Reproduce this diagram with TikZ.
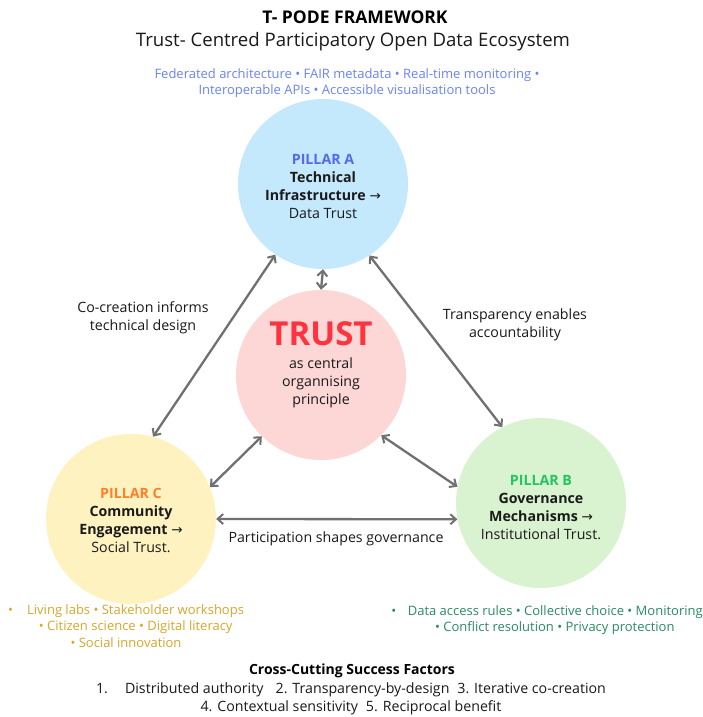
\documentclass[tikz,border=0pt]{standalone}
\usepackage{fontspec}
\setmainfont{Open Sans}
\newfontfamily\symfont{DejaVu Sans}
\usetikzlibrary{arrows.meta}
\definecolor{fillA}{HTML}{C4E8FC}
\definecolor{fillT}{HTML}{FDD6D6}
\definecolor{fillC}{HTML}{FEF2C0}
\definecolor{fillB}{HTML}{D9F2CF}
\definecolor{headA}{HTML}{5468F2}
\definecolor{headT}{HTML}{FF3340}
\definecolor{headC}{HTML}{FF7F2A}
\definecolor{headB}{HTML}{22C55E}
\definecolor{listA}{HTML}{6A84F5}
\definecolor{listC}{HTML}{D4A82A}
\definecolor{listB}{HTML}{2A8B62}
\definecolor{linkgray}{HTML}{707070}
\definecolor{ink}{HTML}{1A1A1A}
\newcommand{\toarrow}{{\symfont\fontsize{13.5}{18}\selectfont →}}
\begin{document}
\begin{tikzpicture}[x=1pt,y=-1pt,
  pillar/.style={circle,draw=none,minimum size=170pt,inner sep=0pt},
  body/.style={font=\fontsize{14.2}{18}\selectfont,align=center,text=ink,inner sep=0pt},
  listtext/.style={font=\fontsize{13}{16.5}\selectfont,align=center,inner sep=0pt},
  link/.style={draw=linkgray,line width=2.3pt,{Straight Barb[length=5.5pt,width=10pt,line width=2pt]}-{Straight Barb[length=5.5pt,width=10pt,line width=2pt]}}
]
\useasboundingbox (0,0) rectangle (702,717);
\fill[white] (0,0) rectangle (702,717);

% title block
\node[font=\fontsize{17.5}{20}\selectfont\bfseries,text=black,inner sep=0pt] (title) at (355,17) {T- PODE FRAMEWORK};
\node[font=\fontsize{18.6}{21}\selectfont,text=ink,inner sep=0pt] (subtitle) at (353,42) {Trust- Centred Participatory Open Data Ecosystem};
\node[listtext,text=listA] (techlist) at (347,83) {Federated architecture • FAIR metadata • Real-time monitoring •\\Interoperable APIs • Accessible visualisation tools};

% four circles
\node[pillar,fill=fillA] (A) at (323,184) {};
\node[pillar,fill=fillT] (T) at (321,375) {};
\node[pillar,fill=fillC] (C) at (131,519) {};
\node[pillar,fill=fillB] (B) at (541,503) {};

% circle texts
\node[body] (Atext) at (323,186) {{\color{headA}\bfseries PILLAR A}\\\textbf{Technical}\\\textbf{Infrastructure} \toarrow\\Data Trust};
\node[font=\fontsize{33}{36}\selectfont\bfseries,text=headT,inner sep=0pt] (Tword) at (321,334) {TRUST};
\node[body] (Ttext) at (321,383) {as central\\organnising\\principle};
\node[body] (Ctext) at (131,520) {{\color{headC}\bfseries PILLAR C}\\\textbf{Community}\\\textbf{Engagement} \toarrow\\Social Trust.};
\node[body] (Btext) at (541,508) {{\color{headB}\bfseries PILLAR B}\\\textbf{Governance}\\\textbf{Mechanisms} \toarrow\\Institutional Trust.};

% connectors
\draw[link] (A.270) -- (T.90);
\draw[link] (C.75) -- (A.236);
\draw[link] (A.303) -- (B.117);
\draw[link] (T.226) -- (C.22);
\draw[link] (T.315) -- (B.169);
\draw[link] (C.0) -- (B.191);

% connector labels
\node[body] (lblCA) at (143,318) {Co-creation informs\\technical design};
\node[body] (lblAB) at (515,325) {Transparency enables\\accountability};
\node[body] (lblCB) at (336,539) {Participation shapes governance};

% pillar detail lists
\node[listtext,text=listC] (commlist) at (126,626) {•\hspace{1.1em}Living labs • Stakeholder workshops\\\hspace{1.5em}• Citizen science • Digital literacy\\• Social innovation};
\node[listtext,text=listB] (govlist) at (547,620) {•\hspace{0.9em}Data access rules • Collective choice • Monitoring\\\hspace{1.2em}• Conflict resolution • Privacy protection};

% success factors
\node[font=\fontsize{14}{17}\selectfont\bfseries,text=black,inner sep=0pt] (sfhead) at (352,671) {Cross-Cutting Success Factors};
\node[body] (sflist) at (351,699) {1.\hspace{1.2em}Distributed authority\hspace{0.6em} 2. Transparency-by-design\hspace{0.3em} 3. Iterative co-creation\\4. Contextual sensitivity\hspace{0.3em} 5. Reciprocal benefit};
\end{tikzpicture}
\end{document}
